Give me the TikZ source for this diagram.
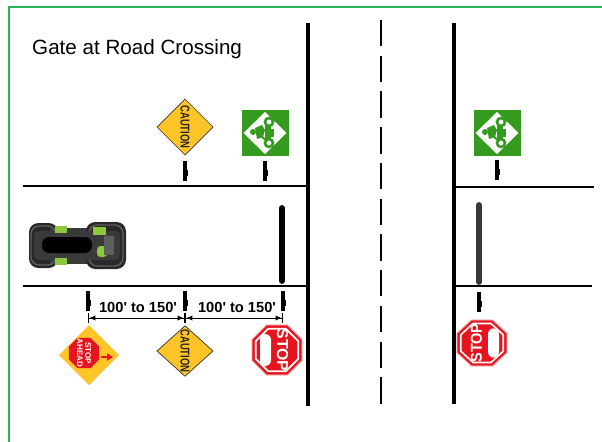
\documentclass[tikz,border=0pt]{standalone}
\usepackage{fontspec}
\setmainfont{Liberation Sans}
\usetikzlibrary{arrows.meta}

\definecolor{framegreen}{RGB}{40,180,80}
\definecolor{cautionyellow}{RGB}{255,196,40}
\definecolor{signgreen}{RGB}{52,155,30}
\definecolor{stopred}{RGB}{230,20,30}
\definecolor{atvbody}{RGB}{58,58,58}
\definecolor{atvtire}{RGB}{40,40,40}
\definecolor{atvedge}{RGB}{95,95,95}
\definecolor{atvgreen}{RGB}{140,200,60}

\tikzset{
  roadline/.style={line width=2.6pt, black},
  sideline/.style={line width=2.3pt, black},
  gatebar/.style={line width=5pt, line cap=round},
  dimline/.style={line width=0.8pt,
    {Bar[width=8pt,line width=1.2pt]Latex[length=5pt,width=4.5pt]}-{Latex[length=5pt,width=4.5pt]Bar[width=8pt,line width=1.2pt]}},
  dimlabel/.style={inner sep=0pt, font=\bfseries\fontsize{12.5}{13}\selectfont},
  postmark/.pic={
    \fill[black] (-1.6,-10) rectangle (1.6,10);
    \fill[black] (1.6,-1) rectangle (3,5);
  },
  caution/.pic={
    \filldraw[fill=cautionyellow, draw=black!80, line width=0.6pt]
      (0,-28) -- (28,0) -- (0,28) -- (-28,0) -- cycle;
    \node[rotate=-90, inner sep=0pt, text=black!85, xscale=0.85, yscale=1.15,
      font=\bfseries\fontsize{9.5}{10}\selectfont] {CAUTION};
  },
  atvsign/.pic={
    \fill[signgreen] (-23.5,-23) rectangle (23.5,23);
    \fill[white] (0,-21) -- (21.5,0) -- (0,21) -- (-21.5,0) -- cycle;
    % rider and quad, seen from the side
    \draw[signgreen, line width=2.2pt] (4,-11) circle (4);
    \draw[signgreen, line width=2.2pt] (4,10) circle (4);
    \fill[signgreen] (0,-7) rectangle (6,7);
    \fill[signgreen] (6,-4) rectangle (9,4);
    \fill[signgreen] (-10,-5) -- (-3,-8) -- (0,-3) -- (-2,4) -- (-8,6) -- cycle;
    \fill[signgreen] (-12,-1) circle (3);
    \draw[signgreen, line width=1.8pt] (-4,3) -- (2,8);
  },
  stopsign/.pic={
    \fill[stopred!55] (22.5:27.5) foreach \a in {67.5,112.5,...,337.5} { -- (\a:27.5) } -- cycle;
    \fill[stopred] (22.5:26.3) foreach \a in {67.5,112.5,...,337.5} { -- (\a:26.3) } -- cycle;
    \fill[white] (22.5:24) foreach \a in {67.5,112.5,...,337.5} { -- (\a:24) } -- cycle;
    \fill[stopred] (22.5:22) foreach \a in {67.5,112.5,...,337.5} { -- (\a:22) } -- cycle;
    \fill[white, rounded corners=5] (-17,-16) rectangle (-6,16);
    \node[rotate=-90, transform shape, inner sep=0pt, text=white,
      font=\bfseries\fontsize{13.5}{13.5}\selectfont] at (5.5,0) {STOP};
  },
  stopahead/.pic={
    \fill[cautionyellow] (0,-30) -- (30,0) -- (0,30) -- (-30,0) -- cycle;
    \begin{scope}[shift={(-5,-2)}]
      \fill[stopred] (22.5:16.5) foreach \a in {67.5,112.5,...,337.5} { -- (\a:16.5) } -- cycle;
      \node[rotate=-90, inner sep=0pt, text=white, align=center,
        font=\bfseries\fontsize{6.8}{7}\selectfont] {STOP\\AHEAD};
    \end{scope}
    \draw[stopred, line width=1.6pt, -{Triangle[length=5pt,width=6pt]}] (12,2) -- (24,2);
  },
}

\begin{document}
\begin{tikzpicture}[x=0.03cm, y=-0.03cm]
  \useasboundingbox (0,0) rectangle (602,442);
  \fill[white] (0,0) rectangle (602,442);

  % frame
  \draw[framegreen, line width=1.6pt] (9,442) -- (9,7) -- (602,7);

  % title
  \node[anchor=base west, inner sep=0pt, font=\fontsize{17.6}{20}\selectfont]
    (title) at (32,54) {Gate at Road Crossing};

  % main road
  \draw[roadline] (308,23) -- (308,406);
  \draw[roadline] (454,23) -- (454,404);
  \draw[line width=2.5pt, dash pattern=on 22.5pt off 8pt] (381,20) -- (381,404);

  % side trails
  \draw[sideline] (23,186) -- (308,186);
  \draw[sideline] (23,286) -- (308,286);
  \draw[sideline] (454,187) -- (594,187);
  \draw[sideline] (454,286) -- (592,286);

  % gates
  \draw[gatebar, black] (282,208) -- (282,281);
  \draw[gatebar, black!78] (479,205) -- (479,282);

  % posts
  \pic at (185,171) {postmark};
  \pic at (265,171) {postmark};
  \pic at (497,170) {postmark};
  \pic at (88,301) {postmark};
  \pic at (185,301) {postmark};
  \pic at (283,301) {postmark};
  \pic at (479,302) {postmark};

  % distance markers
  \coordinate (m1) at (88,318);
  \coordinate (m2) at (185,318);
  \coordinate (m3) at (283,318);
  \draw[dimline] (m1) -- (m2);
  \draw[dimline] (m2) -- (m3);
  \node[dimlabel] (d1) at (138,307) {100\textquotesingle{} to 150\textquotesingle};
  \node[dimlabel] (d2) at (237,307) {100\textquotesingle{} to 150\textquotesingle};

  % signs
  \pic at (185,127) {caution};
  \pic at (265,133) {atvsign};
  \pic at (497,133) {atvsign};
  \pic at (89,355) {stopahead};
  \pic[yscale=0.9] at (185,351) {caution};
  \pic at (277,350) {stopsign};
  \pic[rotate=180, yscale=0.92] at (482,343) {stopsign};

  % quad bike, top view
  \begin{scope}
    \fill[atvtire, rounded corners=8] (29,223) rectangle (58,268);
    \fill[atvbody] (50,228) rectangle (94,264);
    \fill[atvtire, rounded corners=8] (86,222) rectangle (126,269);
    \draw[atvedge, line width=1.2pt, rounded corners=7] (31,226) rectangle (56,265);
    \draw[atvedge, line width=1.2pt, rounded corners=7] (89,225) rectangle (123,266);
    \fill[atvbody, rounded corners=4] (34,231) rectangle (120,260);
    \fill[atvgreen] (55,226) rectangle (67,233);
    \fill[atvgreen] (55,258) rectangle (67,265);
    \fill[atvgreen] (93,227) rectangle (106,235);
    \fill[atvgreen, rounded corners=3] (97,246) rectangle (107,257);
    \fill[black, rounded corners=6] (42,237) rectangle (92,253);
    \fill[atvedge] (104,236) rectangle (114,255);
  \end{scope}
\end{tikzpicture}
\end{document}
